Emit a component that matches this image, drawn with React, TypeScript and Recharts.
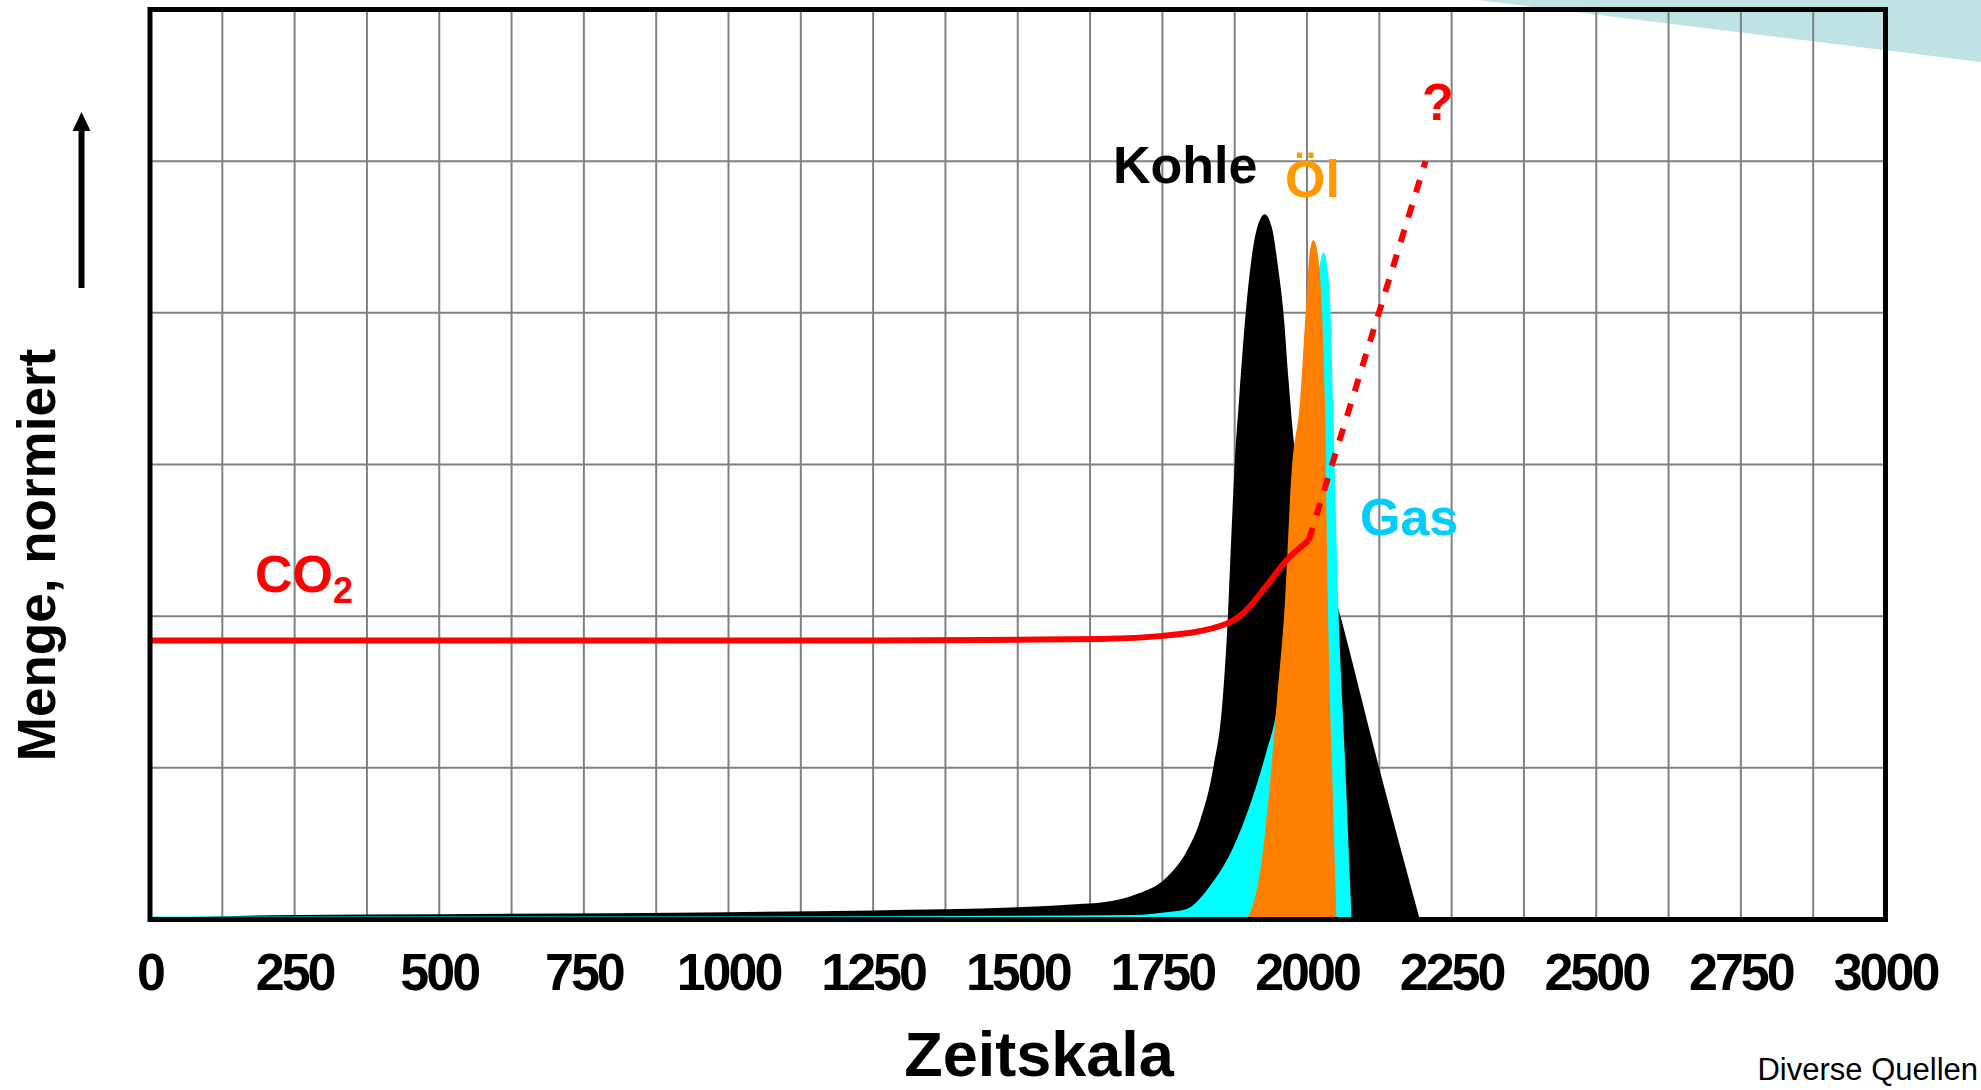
import { ComposedChart, Area, Line, XAxis, YAxis, CartesianGrid } from 'recharts';

// Zeitskala (Jahre) und normierte Mengen
const kohleYears = [0, 250, 500, 1000, 1250, 1500, 1600, 1650, 1700, 1758, 1792, 1815, 1837, 1854, 1863, 1870, 1875, 1883, 1896, 1913, 1927, 1940, 1950, 1960, 1968, 1979, 2060, 2126, 2195];
const kohleValues = [0.01, 0.03, 0.035, 0.048, 0.06, 0.08, 0.1, 0.115, 0.16, 0.28, 0.45, 0.65, 0.98, 1.44, 1.98, 2.6, 3.0, 3.45, 4.08, 4.55, 4.65, 4.55, 4.3, 3.97, 3.56, 3.1, 1.97, 0.98, 0];

const gasYears = [0, 500, 1000, 1500, 1700, 1760, 1792, 1832, 1873, 1901, 1930, 1947, 1962, 1977, 1992, 2007, 2017, 2022, 2029, 2035, 2040, 2045, 2054, 2065, 2077];
const gasValues = [0.02, 0.02, 0.02, 0.025, 0.03, 0.05, 0.07, 0.22, 0.48, 0.75, 1.11, 1.37, 1.85, 2.5, 3.2, 3.9, 4.2, 4.32, 4.4, 4.3, 4.08, 3.42, 2.08, 1.11, 0];

const oelYears = [1896, 1919, 1933, 1948, 1962, 1973, 1988, 1999, 2005, 2011, 2019, 2025, 2031, 2036, 2045, 2051];
const oelValues = [0, 0.32, 0.78, 1.44, 2.1, 2.93, 3.42, 4.08, 4.41, 4.48, 4.38, 4.08, 3.42, 2.1, 0.78, 0];

const co2Years = [0, 250, 500, 750, 1000, 1250, 1500, 1643, 1751, 1861, 1890, 1930, 1965, 2003];
const co2Values = [1.84, 1.84, 1.84, 1.84, 1.84, 1.84, 1.845, 1.85, 1.87, 1.95, 2.02, 2.2, 2.37, 2.5];

const co2ProjYears = [2003, 2205];
const co2ProjValues = [2.5, 5.0];

const xGridTicks = [0, 125, 250, 375, 500, 625, 750, 875, 1000, 1125, 1250, 1375, 1500, 1625, 1750, 1875, 2000, 2125, 2250, 2375, 2500, 2625, 2750, 2875, 3000];
const xLabelTicks = [0, 250, 500, 750, 1000, 1250, 1500, 1750, 2000, 2250, 2500, 2750, 3000];
const yGridTicks = [0, 1, 2, 3, 4, 5, 6];

type Row = { year: number; [key: string]: number };

function buildTable(): Row[] {
  const rows = new Map<number, Row>();
  const add = (years: number[], values: number[], key: string) => {
    years.forEach((yr, i) => {
      const row = rows.get(yr) ?? { year: yr };
      row[key] = values[i];
      rows.set(yr, row);
    });
  };
  add(kohleYears, kohleValues, 'kohle');
  add(gasYears, gasValues, 'gas');
  add(oelYears, oelValues, 'oel');
  add(co2Years, co2Values, 'co2');
  add(co2ProjYears, co2ProjValues, 'co2Proj');
  return [...rows.values()].sort((a, b) => a.year - b.year);
}

const data = buildTable();
const font = '"Liberation Sans", Arial, sans-serif';

const XTick = ({ x, y, payload }: any) => {
  if (!xLabelTicks.includes(payload.value)) return null;
  return (
    <text x={x} y={y} dy={70} textAnchor="middle" fontFamily={font} fontWeight="bold" fontSize={52} letterSpacing={-3} fill="#000">
      {String(payload.value)}
    </text>
  );
};

export default function App() {
  return (
    <div style={{ position: 'absolute', left: 0, top: 0, width: 1981, height: 1090, background: '#fff', fontFamily: font }}>
      <svg width={1981} height={1090} style={{ position: 'absolute', left: 0, top: 0 }}>
        <polygon points="1478,0 1981,0 1981,62" fill="#BFE2E4" />
      </svg>
      <div style={{ position: 'absolute', left: 0, top: 0 }}>
        <ComposedChart width={1981} height={1090} data={data} margin={{ top: 9.5, right: 95.5, bottom: 100.5, left: 150 }}>
          <CartesianGrid stroke="#808080" strokeWidth={2} />
          <XAxis
            dataKey="year"
            type="number"
            domain={[0, 3000]}
            ticks={xGridTicks}
            interval={0}
            height={70}
            axisLine={false}
            tickLine={false}
            tickSize={0}
            tickMargin={0}
            tick={<XTick />}
          />
          <YAxis type="number" domain={[0, 6]} ticks={yGridTicks} hide />
          <Area dataKey="kohle" type="monotone" fill="#000000" fillOpacity={1} stroke="none" connectNulls isAnimationActive={false} />
          <Area dataKey="gas" type="monotone" fill="#00FFFF" fillOpacity={1} stroke="none" connectNulls isAnimationActive={false} />
          <Area dataKey="oel" type="monotone" fill="#FF8000" fillOpacity={1} stroke="none" connectNulls isAnimationActive={false} />
          <Line dataKey="co2" type="monotone" stroke="#FF0000" strokeWidth={6} dot={false} connectNulls isAnimationActive={false} />
          <Line dataKey="co2Proj" type="linear" stroke="#FF0000" strokeWidth={6} strokeDasharray="13 13" dot={false} connectNulls isAnimationActive={false} />
        </ComposedChart>
      </div>
      <svg width={1981} height={1090} style={{ position: 'absolute', left: 0, top: 0, pointerEvents: 'none' }} fontFamily={font}>
        <rect x={150} y={9.5} width={1735.5} height={910} fill="none" stroke="#000" strokeWidth={5} />
        <text x={1113} y={183} fontSize={52} fontWeight="bold" fill="#000">Kohle</text>
        <text x={1285} y={197} fontSize={52} fontWeight="bold" fill="#FF9900">Öl</text>
        <text x={1360} y={535} fontSize={52} fontWeight="bold" fill="#00CCFF">Gas</text>
        <text x={255} y={592} fontSize={52} fontWeight="bold" fill="#FF0000">
          CO<tspan fontSize={36} dy={11}>2</tspan>
        </text>
        <text x={1422} y={120} fontSize={52} fontWeight="bold" fill="#FF0000">?</text>
        <text transform="translate(55,555) rotate(-90)" textAnchor="middle" fontSize={53} fontWeight="bold" fill="#000">
          Menge, normiert
        </text>
        <line x1={81.5} y1={288} x2={81.5} y2={128} stroke="#000" strokeWidth={6} />
        <polygon points="72.5,131 90.5,131 81.5,112" fill="#000" />
        <text x={1039} y={1076} textAnchor="middle" fontSize={63} fontWeight="bold" fill="#000">Zeitskala</text>
        <text x={1978} y={1080} textAnchor="end" fontSize={31} fill="#000">Diverse Quellen</text>
      </svg>
    </div>
  );
}
